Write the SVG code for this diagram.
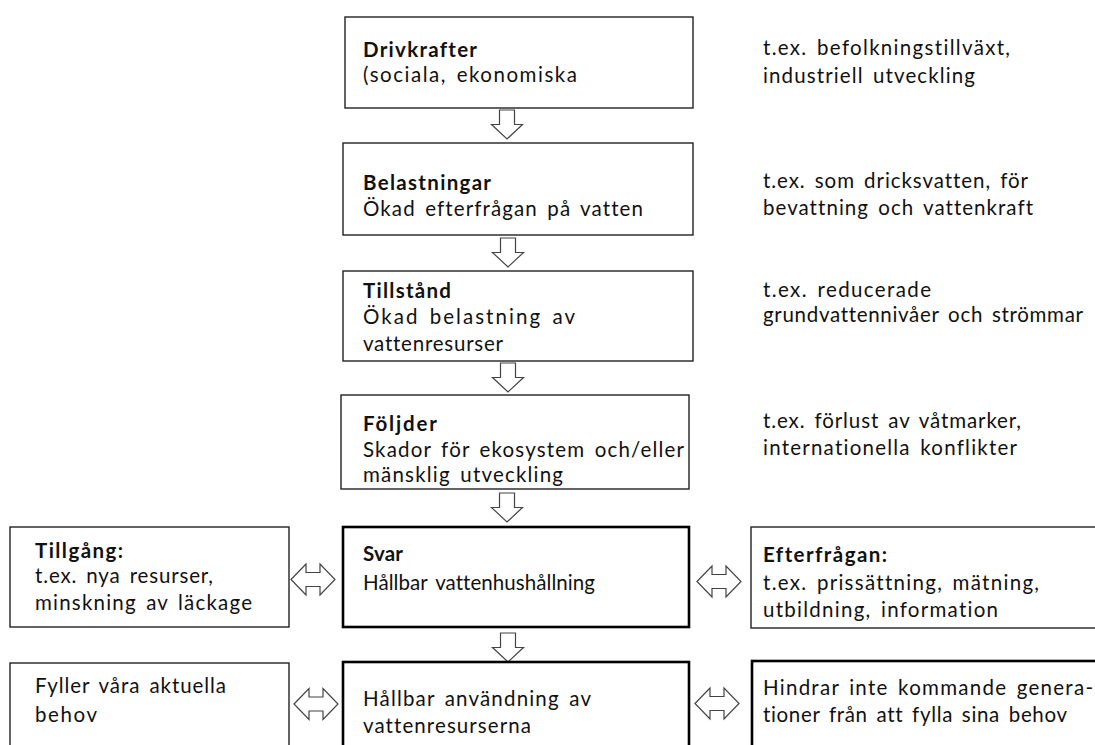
<svg xmlns="http://www.w3.org/2000/svg" width="1095" height="745" viewBox="0 0 1095 745">
<style>
.box{fill:#fff;stroke:#222;stroke-width:1.4}
.thick{fill:#fff;stroke:#000;stroke-width:2.6}
.arr{fill:#fff;stroke:#444;stroke-width:1.2;stroke-linejoin:miter}
text{font-family:Lato,"Noto Sans",sans-serif;font-size:20.5px;fill:#111;word-spacing:3px;font-variant-ligatures:none}
.b{font-weight:bold}
</style>
<defs>
<path id="down" d="M -7.5,-29 H 7.5 V -14.5 H 15.5 L 0,0 L -15.5,-14.5 H -7.5 Z"/>
<path id="dbl" d="M -22,0 L -7,-15.5 V -7 H 7 V -15.5 L 22,0 L 7,15.5 V 7 H -7 V 15.5 Z"/>
</defs>
<rect width="1095" height="745" fill="#fff"/>
<g id="connectors">
<use href="#down" class="arr" x="507" y="139"/>
<use href="#down" class="arr" x="508" y="267"/>
<use href="#down" class="arr" x="508" y="392"/>
<use href="#down" class="arr" x="507" y="522"/>
<use href="#down" class="arr" x="508" y="662"/>
<use href="#dbl" class="arr" x="313" y="579.5"/>
<use href="#dbl" class="arr" x="316" y="704"/>
<use href="#dbl" class="arr" x="719" y="581.5"/>
<use href="#dbl" class="arr" x="717" y="703.5"/>
</g>
<g id="drivkrafter">
<rect class="box" x="345" y="17" width="348" height="91"/>
<text class="b" x="363" y="57" textLength="114" lengthAdjust="spacing">Drivkrafter</text>
<text x="363" y="82" textLength="214" lengthAdjust="spacing">(sociala, ekonomiska</text>
</g>
<g id="belastningar">
<rect class="box" x="343" y="143" width="350" height="92"/>
<text class="b" x="363" y="190" textLength="128" lengthAdjust="spacing">Belastningar</text>
<text x="363" y="216" textLength="280" lengthAdjust="spacing">Ökad efterfrågan på vatten</text>
</g>
<g id="tillstand">
<rect class="box" x="343" y="271" width="350" height="90"/>
<text class="b" x="363" y="298" textLength="88" lengthAdjust="spacing">Tillstånd</text>
<text x="363" y="324" textLength="212" lengthAdjust="spacing">Ökad belastning av</text>
<text x="363" y="351" textLength="140" lengthAdjust="spacing">vattenresurser</text>
</g>
<g id="foljder">
<rect class="box" x="341" y="395" width="348" height="94"/>
<text class="b" x="363" y="431" textLength="74" lengthAdjust="spacing">Följder</text>
<text x="363" y="457" textLength="321" lengthAdjust="spacing">Skador för ekosystem och/eller</text>
<text x="363" y="482" textLength="200" lengthAdjust="spacing">mänsklig utveckling</text>
</g>
<g id="svar">
<rect class="thick" x="343" y="527" width="346" height="100"/>
<text class="b" x="363" y="561" textLength="40" lengthAdjust="spacing">Svar</text>
<text x="363" y="590" textLength="232" lengthAdjust="spacing">Hållbar vattenhushållning</text>
</g>
<g id="hallbar">
<rect class="thick" x="343" y="662" width="346" height="100"/>
<text x="363" y="706" textLength="228" lengthAdjust="spacing">Hållbar användning av</text>
<text x="363" y="733" textLength="168" lengthAdjust="spacing">vattenresurserna</text>
</g>
<g id="tillgang">
<rect class="box" x="10" y="527" width="279" height="100"/>
<text class="b" x="35" y="558" textLength="88" lengthAdjust="spacing">Tillgång:</text>
<text x="35" y="583" textLength="178" lengthAdjust="spacing">t.ex. nya resurser,</text>
<text x="35" y="610" textLength="217" lengthAdjust="spacing">minskning av läckage</text>
</g>
<g id="fyller">
<rect class="box" x="10" y="663" width="279" height="100"/>
<text x="35" y="693" textLength="191" lengthAdjust="spacing">Fyller våra aktuella</text>
<text x="35" y="722" textLength="62" lengthAdjust="spacing">behov</text>
</g>
<g id="efterfragan">
<rect class="box" x="751" y="527" width="360" height="101"/>
<text class="b" x="763" y="562" textLength="124" lengthAdjust="spacing">Efterfrågan:</text>
<text x="763" y="590" textLength="276" lengthAdjust="spacing">t.ex. prissättning, mätning,</text>
<text x="763" y="617" textLength="235" lengthAdjust="spacing">utbildning, information</text>
</g>
<g id="hindrar">
<rect class="thick" x="752" y="661" width="360" height="100"/>
<text x="763" y="695" textLength="330" lengthAdjust="spacing">Hindrar inte kommande genera-</text>
<text x="763" y="722" textLength="304" lengthAdjust="spacing">tioner från att fylla sina behov</text>
</g>
<g id="ex-drivkrafter">
<text x="763" y="55" textLength="247" lengthAdjust="spacing">t.ex. befolkningstillväxt,</text>
<text x="763" y="83" textLength="212" lengthAdjust="spacing">industriell utveckling</text>
</g>
<g id="ex-belastningar">
<text x="763" y="188" textLength="265" lengthAdjust="spacing">t.ex. som dricksvatten, för</text>
<text x="763" y="215" textLength="270" lengthAdjust="spacing">bevattning och vattenkraft</text>
</g>
<g id="ex-tillstand">
<text x="763" y="297" textLength="168" lengthAdjust="spacing">t.ex. reducerade</text>
<text x="763" y="322" textLength="320" lengthAdjust="spacing">grundvattennivåer och strömmar</text>
</g>
<g id="ex-foljder">
<text x="763" y="428" textLength="258" lengthAdjust="spacing">t.ex. förlust av våtmarker,</text>
<text x="763" y="455" textLength="254" lengthAdjust="spacing">internationella konflikter</text>
</g>
</svg>
